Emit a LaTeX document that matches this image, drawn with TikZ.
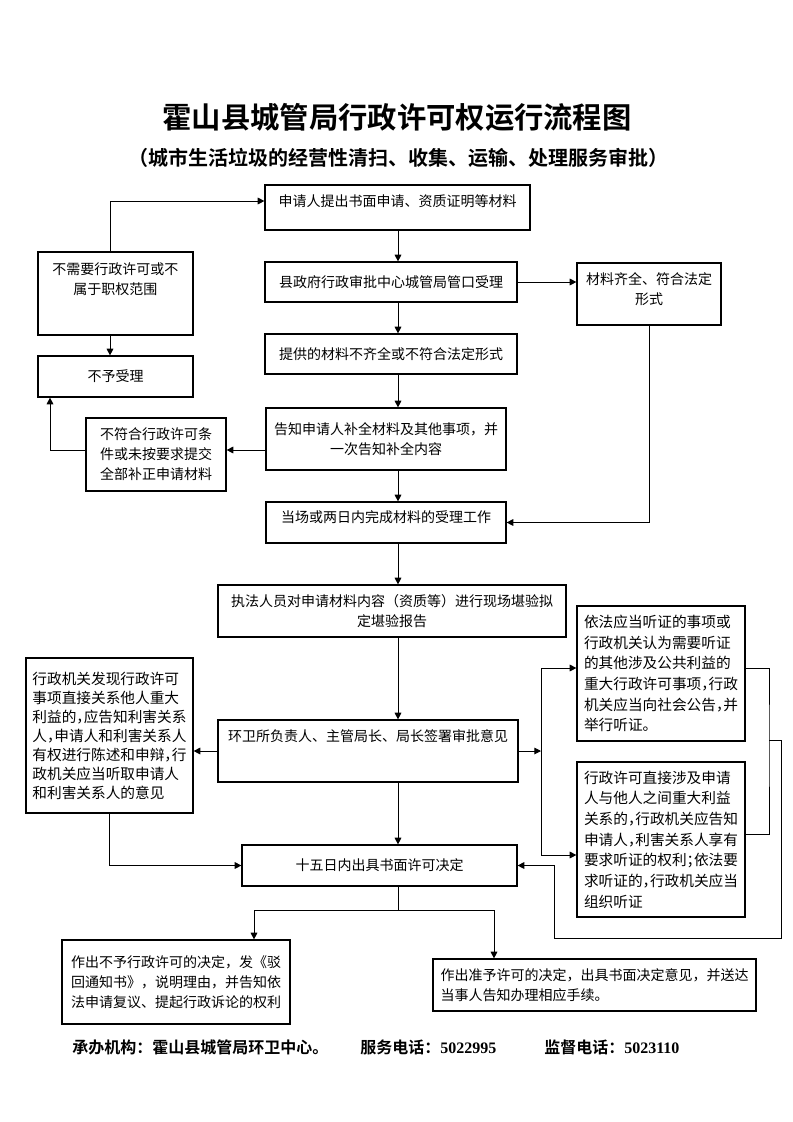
\documentclass[tikz,border=0pt]{standalone}
\usepackage{fontspec}
\setmainfont{Noto Sans CJK SC}[BoldFont={Noto Sans CJK SC Bold}]
\newfontfamily\numfont{Liberation Serif}
\usetikzlibrary{arrows.meta}
\newcommand{\hc}[1]{\makebox[.5em][l]{#1}}
\begin{document}
\begin{tikzpicture}[x=0.75pt,y=-0.75pt,
  box/.style={draw,line width=0.9pt,align=center,inner sep=2pt,font=\fontsize{10.5}{15}\selectfont},
  para/.style={box,align=left,font=\fontsize{11}{15.5}\selectfont},
  sz/.style 2 args={minimum width=#1*0.75pt,minimum height=#2*0.75pt},
  arr/.style={line width=0.7pt,-{Triangle[length=5pt,width=5pt]}},
  wire/.style={line width=0.7pt},
  foot/.style={anchor=west,inner sep=0pt,font=\bfseries\fontsize{12}{14}\selectfont}]
\useasboundingbox (0,0) rectangle (793,1122);
\node[font=\bfseries\fontsize{22}{26}\selectfont] (title) at (397,117) {霍山县城管局行政许可权运行流程图};
\node[font=\bfseries\fontsize{15}{18}\selectfont] (subtitle) at (398,158) {（城市生活垃圾的经营性清扫、收集、运输、处理服务审批）};
\node[box,sz={265}{45}] (apply) at (397.5,207.5) {申请人提出书面申请、资质证明等材料\\[-4pt]\mbox{}};
\node[box,sz={252}{40}] (accept) at (391,282) {县政府行政审批中心城管局管口受理};
\node[box,sz={252}{40}] (lack) at (391,354) {提供的材料不齐全或不符合法定形式};
\node[box,sz={240}{62}] (notify) at (386,439) {告知申请人补全材料及其他事项，并\\一次告知补全内容};
\node[box,sz={240}{41}] (finish) at (386,522.5) {当场或两日内完成材料的受理工作\\[-5.6pt]\mbox{}};
\node[box,sz={348}{52}] (inspect) at (392,611) {执法人员对申请材料内容（资质等）进行现场堪验拟\\定堪验报告};
\node[box,sz={300}{62}] (sign) at (368,751) {环卫所负责人、主管局长、局长签署审批意见\\[8.7pt]\mbox{}};
\node[box,sz={275}{41}] (decide) at (379.5,865.5) {十五日内出具书面许可决定};
\node[box,sz={228}{84}] (reject) at (176,982) {作出不予行政许可的决定，发《驳\\回通知书》，说明理由，并告知依\\法申请复议、提起行政诉论的权利};
\node[box,align=left,sz={323}{52}] (grant) at (594.5,985) {作出准予许可的决定，出具书面决定意见，并送达\\当事人告知办理相应手续。};
\node[box,sz={155}{83}] (noneed) at (115.5,293.5) {不需要行政许可或不\\属于职权范围\\[8pt]\mbox{}};
\node[box,sz={155}{41}] (refuse) at (115.5,376.5) {不予受理};
\node[box,sz={140}{73}] (fail) at (156,454.5) {不符合行政许可条\\件或未按要求提交\\全部补正申请材料};
\node[para,font=\fontsize{11}{14.25}\selectfont,sz={167}{155}] (hear) at (109.5,735.5) {行政机关发现行政许可\\事项直接关系他人重大\\利益的\hc{，}应告知利害关系\\人\hc{，}申请人和利害关系人\\有权进行陈述和申辩\hc{，}行\\政机关应当听取申请人\\和利害关系人的意见};
\node[box,sz={144}{62}] (ok) at (649,294) {材料齐全、符合法定\\形式\\[-6.3pt]\mbox{}};
\node[para,sz={168}{135}] (pub) at (661,673.5) {依法应当听证的事项或\\行政机关认为需要听证\\的其他涉及公共利益的\\重大行政许可事项\hc{，}行政\\机关应当向社会公告\hc{，}并\\举行听证。};
\node[para,sz={168}{155}] (hear2) at (661,839.5) {行政许可直接涉及申请\\人与他人之间重大利益\\关系的\hc{，}行政机关应告知\\申请人\hc{，}利害关系人享有\\要求听证的权利\hc{；}依法要\\求听证的\hc{，}行政机关应当\\组织听证};
\node[foot] (org) at (72,1047) {承办机构：霍山县城管局环卫中心。};
\node[foot] (tel) at (360,1047) {服务电话：{\numfont 5022995}};
\node[foot] (sup) at (544,1047) {监督电话：{\numfont 5023110}};
\coordinate (axis) at (398,0);
\coordinate (lx) at (110,0);
\coordinate (ain) at (0,201);
\coordinate (ny) at (0,450);
\coordinate (fx) at (50,0);
\coordinate (fork) at (541,751);
\coordinate (pin) at (0,668);
\coordinate (qin) at (0,855);
\coordinate (qout) at (0,834);
\coordinate (brk) at (769,740);
\coordinate (loopa) at (781,740);
\coordinate (loopb) at (554,938);
\coordinate (lj) at (254,910);
\coordinate (rj) at (494,910);
\draw[arr] (noneed.north -| lx) |- (apply.west |- ain);
\draw[arr] (apply.south -| axis) -- (accept.north -| axis);
\draw[arr] (accept.south -| axis) -- (lack.north -| axis);
\draw[arr] (lack.south -| axis) -- (notify.north -| axis);
\draw[arr] (notify.south -| axis) -- (finish.north -| axis);
\draw[arr] (finish.south -| axis) -- (inspect.north -| axis);
\draw[arr] (inspect.south -| axis) -- (sign.north -| axis);
\draw[arr] (sign.south -| axis) -- (decide.north -| axis);
\draw[arr] (accept.east) -- (accept.east -| ok.west);
\draw[arr] (ok.south) |- (finish.east);
\draw[arr] (noneed.south -| lx) -- (refuse.north -| lx);
\draw[arr] (notify.west |- ny) -- (fail.east |- ny);
\draw[arr] (fail.west |- ny) -| (refuse.south -| fx);
\draw[arr] (sign.west) -- (sign.west -| hear.east);
\draw[arr] (sign.east) -- (fork);
\draw[arr] (fork) |- (pub.west |- pin);
\draw[arr] (fork) |- (hear2.west |- qin);
\draw[wire] (pub.east |- pin) -| (brk) |- (hear2.east |- qout);
\draw[arr] (brk) -- (loopa) |- (loopb) |- (decide.east);
\draw[arr] (hear.south) |- (decide.west);
\draw[arr] (decide.south -| axis) |- (lj) -- (lj |- reject.north);
\draw[arr] (decide.south -| axis) |- (rj) -- (rj |- grant.north);
\end{tikzpicture}
\end{document}
